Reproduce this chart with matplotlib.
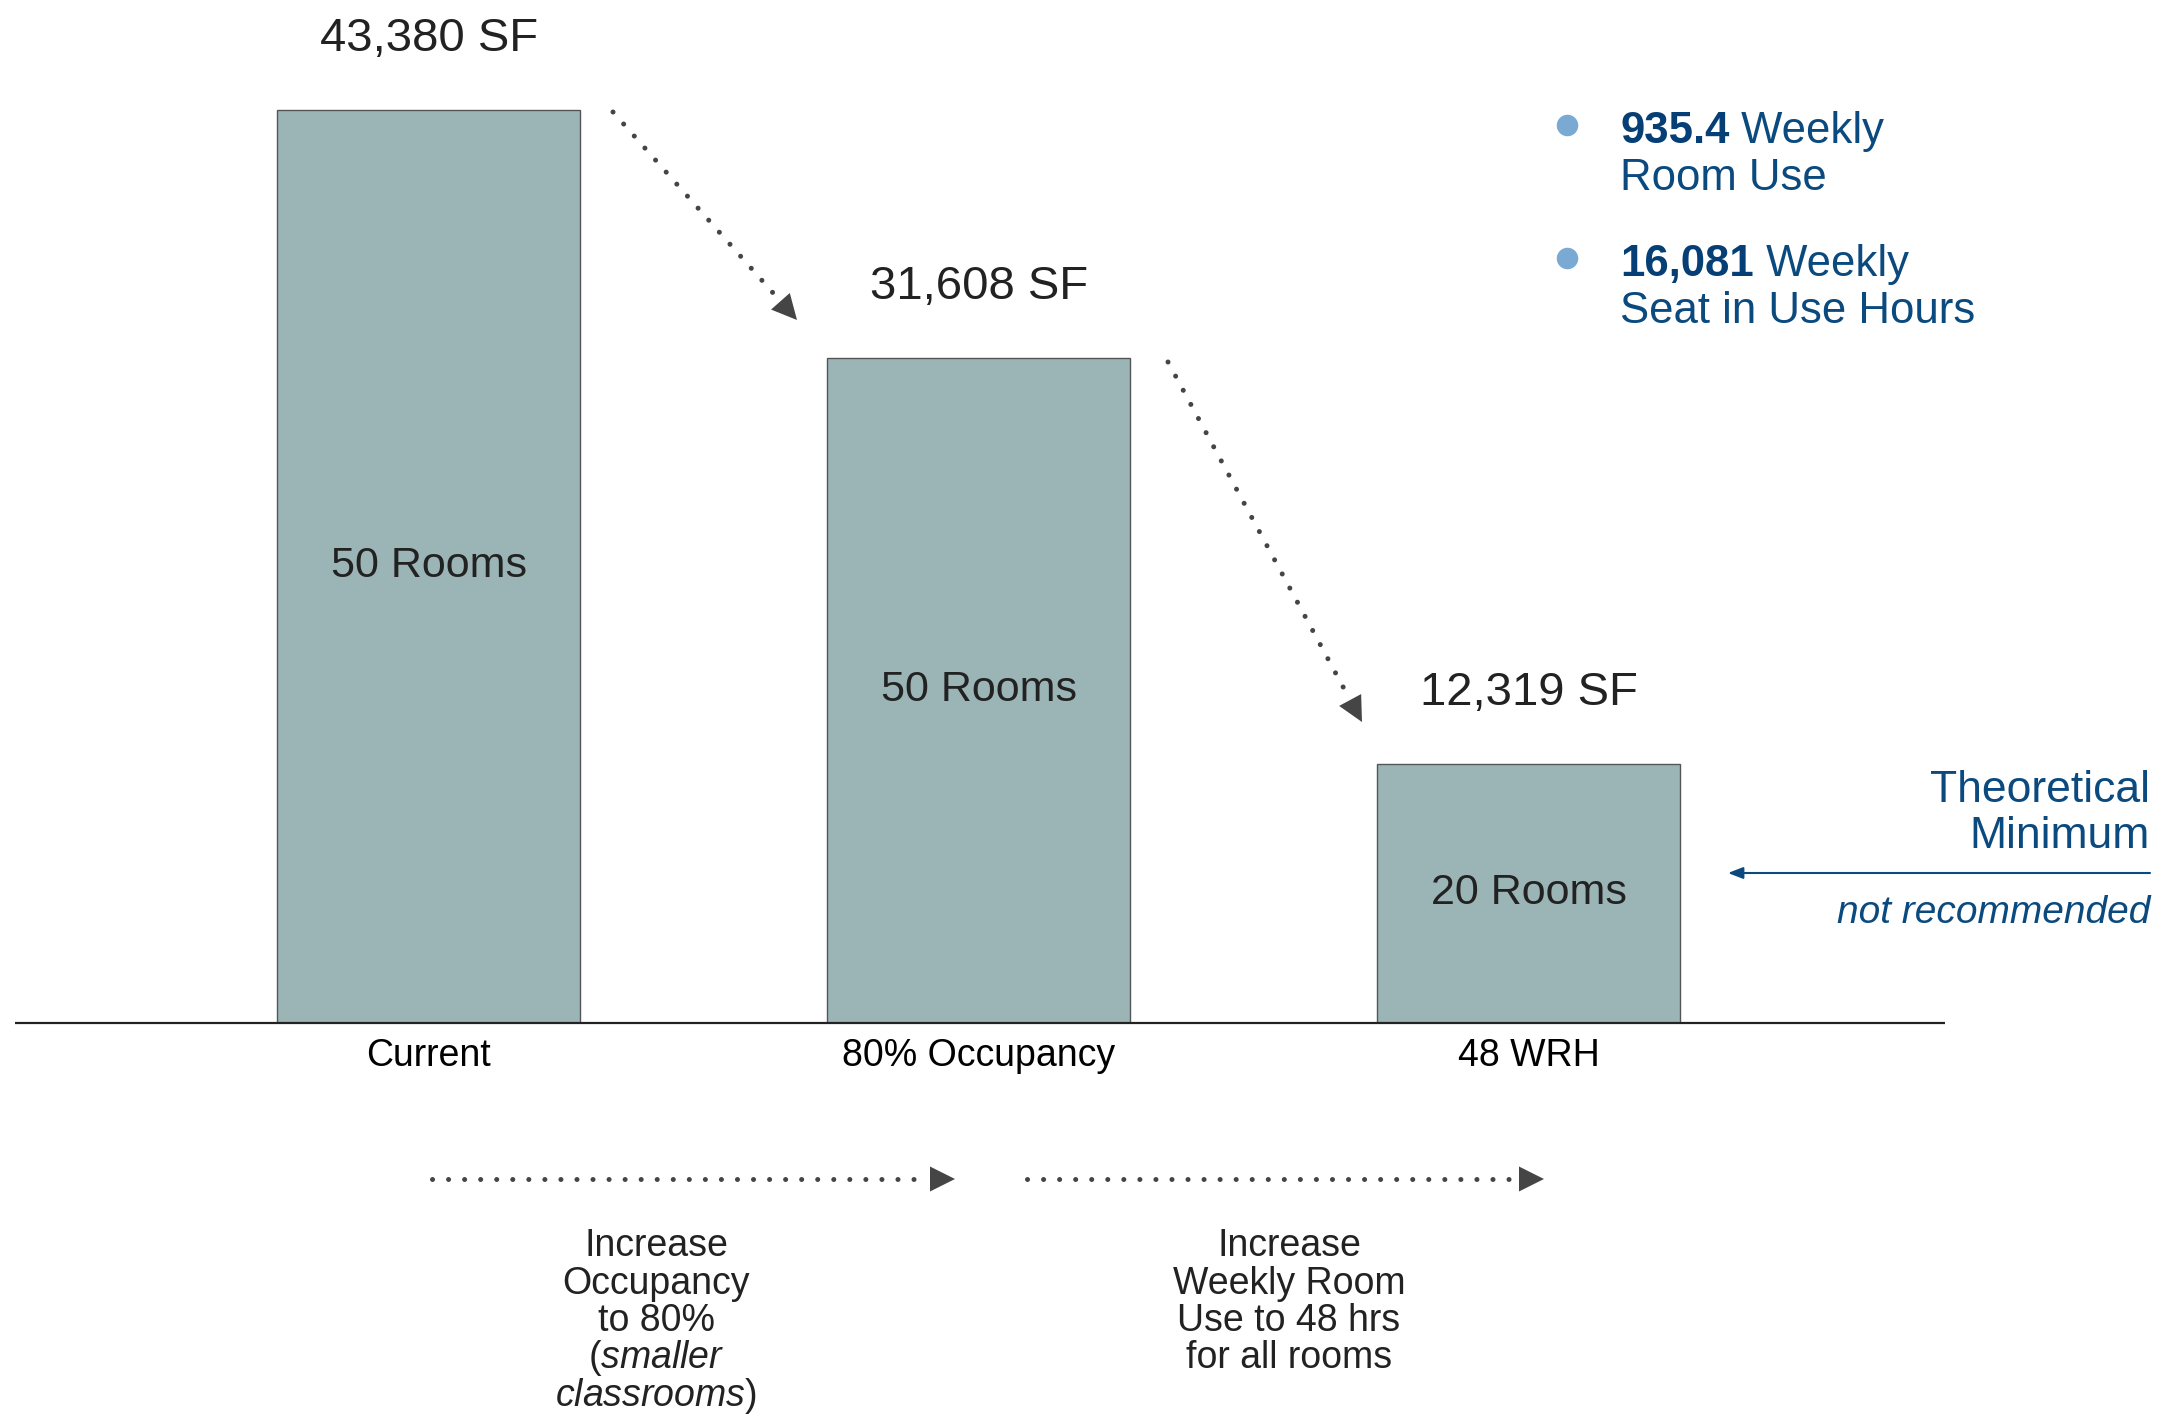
import numpy as np
import matplotlib
matplotlib.use('Agg')
import matplotlib.pyplot as plt
from matplotlib.patches import Polygon

# data
categories = ['Current', '80% Occupancy', '48 WRH']
square_feet = [43380, 31608, 12319]
rooms = [50, 50, 20]

plt.rcParams['font.family'] = ['Liberation Sans', 'DejaVu Sans']
plt.rcParams['mathtext.fontset'] = 'custom'
plt.rcParams['mathtext.rm'] = 'Liberation Sans'
plt.rcParams['mathtext.it'] = 'Liberation Sans:italic'
plt.rcParams['mathtext.bf'] = 'Liberation Sans:bold'

W, H = 2174, 1416
bar_color = '#9bb5b6'
dark = '#222222'
arrow_gray = '#454545'
navy = '#0b4a7e'

fig = plt.figure(figsize=(W / 100, H / 100), dpi=100)

# main bar axes
ax = fig.add_axes([15 / W, (H - 1023) / H, 1930 / W, 1023 / H])
x = np.arange(len(categories))
ax.bar(x, square_feet, width=0.551, color=bar_color, edgecolor='#555555', linewidth=1.0)
ax.set_xlim(-0.752, 2.757)
ax.set_ylim(0, 48600)
for s in ['left', 'right', 'top']:
    ax.spines[s].set_visible(False)
ax.spines['bottom'].set_linewidth(1.6)
ax.spines['bottom'].set_color(dark)
ax.spines['bottom'].set_capstyle('butt')
ax.set_yticks([])
ax.set_xticks(x, categories, fontsize=27, color='black')
ax.tick_params(axis='x', length=0, pad=10.5)

for i, (sf, r) in enumerate(zip(square_feet, rooms)):
    ax.annotate(f'{sf:,} SF', xy=(i, sf), xytext=(0, 42.5), textcoords='offset points',
                ha='center', va='baseline', fontsize=34, color=dark)
    ax.text(i, sf / 2, f'{r} Rooms', ha='center', va='center', fontsize=31, color=dark)

# overlay in pixel coords for the decorations
deco = fig.add_axes([0, 0, 1, 1], zorder=5)
deco.set_xlim(0, W)
deco.set_ylim(H, 0)
deco.axis('off')
deco.patch.set_alpha(0)


def dotted_arrow(x0, y0, x1, y1, head_len=25, head_w=12.5):
    d = np.array([x1 - x0, y1 - y0], dtype=float)
    d /= np.hypot(*d)
    n = np.array([-d[1], d[0]])
    base = np.array([x1, y1]) - head_len * d
    end = base - 8 * d
    deco.plot([x0, end[0]], [y0, end[1]], color=arrow_gray, lw=3.6,
              linestyle=(0, (0.01, 3.2)), dash_capstyle='round')
    tri = [(x1, y1), tuple(base + head_w * n), tuple(base - head_w * n)]
    deco.add_patch(Polygon(tri, closed=True, color=arrow_gray, lw=0))


dotted_arrow(613, 112, 797, 320)
dotted_arrow(1168, 362, 1362, 722)
dotted_arrow(432, 1179, 955, 1179)
dotted_arrow(1027, 1179, 1544, 1179)

# bottom captions
step = 37.5
left_lines = ['Increase', 'Occupancy', 'to 80%', r'($\mathit{smaller}$', r'$\mathit{classrooms}$)']
right_lines = ['Increase', 'Weekly Room', 'Use to 48 hrs', 'for all rooms']
for k, t in enumerate(left_lines):
    deco.text(656, 1256 + k * step, t, ha='center', va='baseline', fontsize=27, color=dark)
for k, t in enumerate(right_lines):
    deco.text(1289, 1256 + k * step, t, ha='center', va='baseline', fontsize=27, color=dark)

# bullets top right
bullets = [('935.4', ' Weekly', 'Room Use'), ('16,081', ' Weekly', 'Seat in Use Hours')]
for k, (num, rest, line2) in enumerate(bullets):
    yb = 143 + k * 133
    deco.plot(1567, yb - 18, 'o', ms=15.5, color='#7aaad4', mec='none')
    t = deco.text(1620, yb, num, ha='left', va='baseline', fontsize=31.5,
                  fontweight='bold', color='#063f75')
    deco.annotate(rest, xy=(1, 0), xycoords=t, ha='left', va='bottom',
                  fontsize=31.5, color=navy)
    deco.text(1620, yb + 47, line2, ha='left', va='baseline', fontsize=31.5, color=navy)

# theoretical minimum note
deco.text(2150, 802, 'Theoretical', ha='right', va='baseline', fontsize=32, color=navy)
deco.text(2150, 848, 'Minimum', ha='right', va='baseline', fontsize=32, color=navy)
deco.annotate('', xy=(1728, 873), xytext=(2150, 873),
              arrowprops=dict(arrowstyle='-|>,head_length=0.9,head_width=0.35',
                              color=navy, lw=1.5, shrinkA=0, shrinkB=0, mutation_scale=10))
deco.text(2150, 923, 'not recommended', ha='right', va='baseline', fontsize=28,
          style='italic', color=navy)

fig.savefig('out.png', dpi=100)
